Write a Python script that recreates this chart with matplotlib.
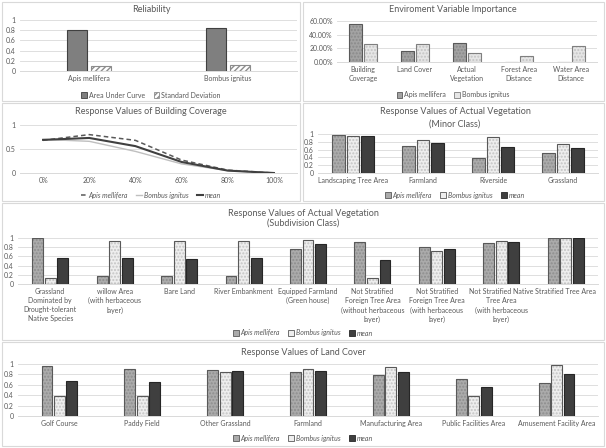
import matplotlib
matplotlib.use("Agg")
import matplotlib.pyplot as plt
from matplotlib.patches import Rectangle, Patch
from matplotlib.lines import Line2D
import numpy as np

plt.rcParams['font.family'] = ['Lato', 'DejaVu Sans']

W, H = 606, 448
TXT = '#595959'
GRID = '#d9d9d9'

# reliability
rel_species = ['Apis mellifera', 'Bombus ignitus']
rel_auc = [0.80, 0.85]
rel_sd = [0.09, 0.12]

# environment variable importance (%)
imp_vars = ['Building\nCoverage', 'Land Cover', 'Actual\nVegetation',
            'Forest Area\nDistance', 'Water Area\nDistance']
imp_apis = [55, 16, 28, 0, 0]
imp_bombus = [27, 27, 13, 9, 24]

# building coverage response
bc_levels = ['0%', '20%', '40%', '60%', '80%', '100%']
bc_apis = [0.68, 0.80, 0.68, 0.27, 0.06, 0.0]
bc_bombus = [0.70, 0.66, 0.45, 0.19, 0.05, 0.0]
bc_mean = [0.69, 0.73, 0.56, 0.23, 0.05, 0.0]

# actual vegetation (minor class)
minor_cats = ['Landscaping Tree Area', 'Farmland', 'Riverside', 'Grassland']
minor_apis = [0.97, 0.68, 0.38, 0.51]
minor_bombus = [0.95, 0.84, 0.93, 0.75]
minor_mean = [0.96, 0.77, 0.66, 0.63]

# actual vegetation (subdivision class)
sub_cats = ['Grassland\nDominated by\nDrought-tolerant\nNative Species',
            'willow Area\n(with herbaceous\nlayer)',
            'Bare Land', 'River Embankment',
            'Equipped Farmland\n(Green house)',
            'Not Stratified\nForeign Tree Area\n(without herbaceous\nlayer)',
            'Not Stratified\nForeign Tree Area\n(with herbaceous\nlayer)',
            'Not Stratified Native\nTree Area\n(with herbaceous\nlayer)',
            'Stratified Tree Area']
sub_apis = [0.99, 0.18, 0.17, 0.18, 0.76, 0.91, 0.81, 0.89, 0.99]
sub_bombus = [0.13, 0.94, 0.94, 0.94, 0.96, 0.14, 0.71, 0.94, 1.0]
sub_mean = [0.57, 0.56, 0.55, 0.56, 0.87, 0.52, 0.76, 0.91, 0.99]

# land cover
lc_cats = ['Golf Course', 'Paddy Field', 'Other Grassland', 'Farmland',
           'Manufacturing Area', 'Public Facilities Area', 'Amusement Facility Area']
lc_apis = [0.97, 0.91, 0.88, 0.84, 0.78, 0.71, 0.64]
lc_bombus = [0.38, 0.38, 0.84, 0.91, 0.94, 0.38, 0.99]
lc_mean = [0.68, 0.65, 0.86, 0.87, 0.85, 0.55, 0.81]

fig = plt.figure(figsize=(W / 100, H / 100), dpi=100)


def px_axes(x0, y0, x1, y1):
    ax = fig.add_axes([x0 / W, 1 - y1 / H, (x1 - x0) / W, (y1 - y0) / H])
    for s in ['top', 'right', 'left']:
        ax.spines[s].set_visible(False)
    ax.spines['bottom'].set_color(GRID)
    ax.spines['bottom'].set_linewidth(0.7)
    ax.yaxis.grid(True, color=GRID, lw=0.6)
    ax.set_axisbelow(True)
    ax.tick_params(length=0, labelsize=5, colors=TXT, pad=3)
    return ax


def panel(x0, y0, x1, y1):
    fig.patches.append(Rectangle((x0 / W, 1 - y1 / H), (x1 - x0) / W, (y1 - y0) / H,
                                 transform=fig.transFigure, fill=False,
                                 edgecolor=GRID, lw=0.8))


def ftext(x, y, s, size=6.5):
    fig.text(x / W, 1 - y / H, s, ha='center', va='center', fontsize=size, color=TXT)


def hbar(ax, x, h, w, face, hatch_col, edge):
    ax.bar(x, h, w, color=face, edgecolor=hatch_col, hatch='.....', lw=0)
    ax.bar(x, h, w, fill=False, edgecolor=edge, lw=0.8)


def flegend(handles, labels, x, y, italic=True):
    fig.legend(handles, labels, loc='center', bbox_to_anchor=(x / W, 1 - y / H),
               ncol=len(handles), frameon=False, handlelength=0.8, handleheight=0.8,
               handletextpad=0.3, columnspacing=1.2,
               prop={'size': 5, 'style': 'italic' if italic else 'normal'},
               labelcolor=TXT)


APIS = ('#ababab', '#8e8e8e', '#595959')
BOMB = ('#eeeeee', '#c4c4c4', '#595959')
MEAN = '#3f3f3f'

def species_handles():
    return [Patch(facecolor=APIS[0], edgecolor=APIS[2], lw=0.6),
            Patch(facecolor=BOMB[0], edgecolor=BOMB[2], lw=0.6),
            Patch(facecolor=MEAN, edgecolor='#262626', lw=0.6)]

# panel borders
panel(2, 2, 300, 101)
panel(303, 2, 604, 101)
panel(2, 103, 300, 201)
panel(303, 103, 604, 201)
panel(2, 203, 604, 340)
panel(2, 342, 604, 446)

# --- Reliability
ax = px_axes(20, 20, 297, 71)
x = np.arange(len(rel_species))
ax.bar(x - 0.087, rel_auc, 0.145, color='#7f7f7f', edgecolor='#404040', lw=0.8)
ax.bar(x + 0.087, rel_sd, 0.145, color='white', edgecolor='#8c8c8c', hatch='//////', lw=0.8)
ax.set_xlim(-0.5, 1.5)
ax.set_ylim(0, 1)
ax.set_yticks([0, 0.2, 0.4, 0.6, 0.8, 1])
ax.set_yticklabels(['0', '0.2', '0.4', '0.6', '0.8', '1'])
ax.set_xticks(x)
ax.set_xticklabels(rel_species)
ftext(151, 10, 'Reliability')
flegend([Patch(facecolor='#7f7f7f', edgecolor='#404040', lw=0.6),
         Patch(facecolor='white', edgecolor='#8c8c8c', hatch='//////', lw=0.6)],
        ['Area Under Curve', 'Standard Deviation'], 151, 95, italic=False)

# --- Environment variable importance
ax = px_axes(337, 21, 597, 62)
x = np.arange(len(imp_vars))
hbar(ax, x - 0.145, imp_apis, 0.25, '#a3a3a3', '#8a8a8a', '#595959')
hbar(ax, x + 0.145, imp_bombus, 0.25, '#e6e6e6', '#c4c4c4', '#7f7f7f')
ax.set_xlim(-0.5, len(imp_vars) - 0.5)
ax.set_ylim(0, 60)
ax.set_yticks([0, 20, 40, 60])
ax.set_yticklabels(['0.00%', '20.00%', '40.00%', '60.00%'])
ax.set_xticks(x)
ax.set_xticklabels(imp_vars, linespacing=1.3)
ftext(453, 10, 'Enviroment Variable Importance')
flegend([Patch(facecolor='#a3a3a3', edgecolor='#595959', lw=0.6),
         Patch(facecolor='#e6e6e6', edgecolor='#7f7f7f', lw=0.6)],
        ['Apis mellifera', 'Bombus ignitus'], 453, 95, italic=False)

# --- Building coverage
ax = px_axes(20, 125, 297, 173)
x = np.arange(len(bc_levels))
ax.plot(x, bc_apis, color='#595959', lw=1.1, dashes=(3, 2))
ax.plot(x, bc_bombus, color='#bfbfbf', lw=1.0)
ax.plot(x, bc_mean, color='#404040', lw=1.5)
ax.set_xlim(-0.5, len(bc_levels) - 0.5)
ax.set_ylim(0, 1)
ax.set_yticks([0, 0.5, 1])
ax.set_yticklabels(['0', '0.5', '1'])
ax.set_xticks(x)
ax.set_xticklabels(bc_levels)
ftext(151, 112, 'Response Values of Building Coverage')
flegend([Line2D([], [], color='#595959', lw=1.1, dashes=(3, 2)),
         Line2D([], [], color='#bfbfbf', lw=1.0),
         Line2D([], [], color='#404040', lw=1.5)],
        ['Apis mellifera', 'Bombus ignitus', 'mean'], 151, 195)
fig.legends[-1].handlelength = 2.5


def species_bars(ax, a, b, m, w, off):
    x = np.arange(len(a))
    hbar(ax, x - off, a, w, *APIS)
    hbar(ax, x, b, w, *BOMB)
    ax.bar(x + off, m, w, color=MEAN, edgecolor='#262626', lw=0.8)
    ax.set_xlim(-0.5, len(a) - 0.5)
    ax.set_ylim(0, 1)
    ax.set_yticks([0, 0.2, 0.4, 0.6, 0.8, 1])
    ax.set_yticklabels(['0', '0.2', '0.4', '0.6', '0.8', '1'])
    ax.set_xticks(x)


# --- Minor class
ax = px_axes(318, 134, 598, 173)
species_bars(ax, minor_apis, minor_bombus, minor_mean, 0.18, 0.21)
ax.set_xticklabels(minor_cats)
ftext(455, 112, 'Response Values of Actual Vegetation')
ftext(455, 124, '(Minor Class)')
flegend(species_handles(), ['Apis mellifera', 'Bombus ignitus', 'mean'], 455, 195)

# --- Subdivision class
ax = px_axes(18, 238, 598, 284)
species_bars(ax, sub_apis, sub_bombus, sub_mean, 0.17, 0.195)
ax.set_xticklabels(sub_cats, linespacing=1.35, va='top')
ftext(303, 213, 'Response Values of Actual Vegetation')
ftext(303, 223, '(Subdivision Class)')
flegend(species_handles(), ['Apis mellifera', 'Bombus ignitus', 'mean'], 303, 333)

# --- Land cover
ax = px_axes(18, 364, 598, 416)
species_bars(ax, lc_apis, lc_bombus, lc_mean, 0.13, 0.15)
ax.set_xticklabels(lc_cats)
ftext(303, 352, 'Response Values of Land Cover')
flegend(species_handles(), ['Apis mellifera', 'Bombus ignitus', 'mean'], 303, 438)

fig.savefig('out.png', dpi=100, facecolor='white')
